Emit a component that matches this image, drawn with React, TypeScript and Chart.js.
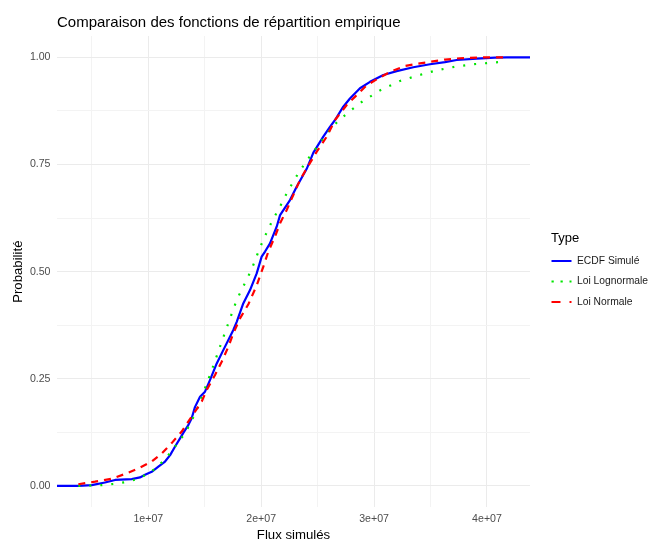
import React, { useEffect, useRef } from "react";
import { Chart, registerables } from "chart.js";

Chart.register(...registerables);

const FONT = "'Liberation Sans', Arial, Helvetica, sans-serif";

const chartTitle = "Comparaison des fonctions de répartition empirique";
const xAxisTitle = "Flux simulés";
const yAxisTitle = "Probabilité";
const legendTitle = "Type";
const seriesNames = ["ECDF Simulé", "Loi Lognormale", "Loi Normale"];
const seriesColors = ["#0000FF", "#00E600", "#FF0000"];

const xMajorTicks = [1e7, 2e7, 3e7, 4e7];
const xTickLabels = ["1e+07", "2e+07", "3e+07", "4e+07"];
const xMinorTicks = [5e6, 1.5e7, 2.5e7, 3.5e7];
const yMajorTicks = [0, 0.25, 0.5, 0.75, 1];
const yTickLabels = ["0.00", "0.25", "0.50", "0.75", "1.00"];
const yMinorTicks = [0.125, 0.375, 0.625, 0.875];
const xRange = [1.91e6, 4.381e7];
const yRange = [-0.05, 1.05];

// ECDF of simulated flux
const ecdfX = [
  1.91e6, 3.8e6, 4.99e6, 6.16e6, 7.05e6, 8.53e6, 9.26e6, 9.71e6, 10.3e6, 10.89e6,
  11.48e6, 11.93e6, 12.37e6, 12.81e6, 13.1e6, 13.54e6, 13.84e6, 14.13e6, 14.58e6, 15.02e6,
  15.46e6, 16.06e6, 16.64e6, 17.53e6, 17.83e6, 18.41e6, 19.01e6, 19.6e6, 20.04e6, 20.34e6,
  20.78e6, 21.37e6, 21.67e6, 22.55e6, 23.14e6, 24.03e6, 24.62e6, 25.5e6, 26.09e6, 26.54e6,
  27.27e6, 27.86e6, 28.75e6, 29.64e6, 30.82e6, 32.0e6, 33.47e6, 34.95e6, 36.28e6, 37.32e6,
  39.09e6, 40.71e6, 41.75e6, 43.81e6,
];
const ecdfY = [
  0, 0, 0.002, 0.008, 0.014, 0.016, 0.02, 0.026, 0.033, 0.045,
  0.057, 0.072, 0.092, 0.111, 0.124, 0.142, 0.158, 0.184, 0.208, 0.22,
  0.247, 0.286, 0.317, 0.364, 0.383, 0.426, 0.457, 0.496, 0.535, 0.547,
  0.566, 0.605, 0.632, 0.667, 0.698, 0.74, 0.778, 0.815, 0.838, 0.854,
  0.885, 0.904, 0.928, 0.943, 0.959, 0.968, 0.977, 0.984, 0.989, 0.994,
  0.997, 0.9995, 1, 1,
];

// Fitted lognormal CDF at the simulated values
const lognormX = [
  3.8e6, 5.87e6, 7.05e6, 8.23e6, 9.11e6, 10.15e6, 10.89e6, 11.63e6, 12.37e6, 13.25e6,
  13.84e6, 14.43e6, 14.87e6, 15.62e6, 16.35e6, 17.09e6, 17.83e6, 18.57e6, 19.16e6, 19.74e6,
  20.19e6, 20.93e6, 21.67e6, 22.4e6, 23.29e6, 24.17e6, 25.06e6, 25.8e6, 26.83e6, 27.87e6,
  28.9e6, 30.52e6, 32.29e6, 33.77e6, 35.55e6, 37.32e6, 38.79e6, 40.56e6, 41.75e6,
];
const lognormY = [
  0, 0.002, 0.005, 0.01, 0.017, 0.031, 0.047, 0.067, 0.092, 0.123,
  0.152, 0.186, 0.218, 0.27, 0.325, 0.38, 0.434, 0.474, 0.506, 0.546,
  0.575, 0.616, 0.652, 0.69, 0.73, 0.764, 0.795, 0.822, 0.852, 0.875,
  0.896, 0.923, 0.945, 0.957, 0.97, 0.979, 0.984, 0.988, 0.991,
];

// Fitted normal CDF at the simulated values
const normX = [
  3.8e6, 5.28e6, 6.76e6, 7.94e6, 9.11e6, 10.3e6, 11.19e6, 12.07e6, 12.96e6, 13.84e6,
  14.73e6, 15.17e6, 15.91e6, 16.5e6, 17.09e6, 17.53e6, 18.12e6, 18.86e6, 19.6e6, 20.19e6,
  20.63e6, 21.22e6, 21.67e6, 22.26e6, 22.84e6, 23.44e6, 24.03e6, 24.92e6, 25.8e6, 26.54e6,
  27.57e6, 28.46e6, 29.34e6, 30.37e6, 31.41e6, 32.74e6, 34.06e6, 36.28e6, 37.61e6, 39.38e6,
  41.75e6,
];
const normY = [
  0.004, 0.01, 0.017, 0.028, 0.041, 0.057, 0.076, 0.1, 0.127, 0.162,
  0.197, 0.224, 0.259, 0.29, 0.325, 0.356, 0.391, 0.424, 0.468, 0.512,
  0.547, 0.582, 0.613, 0.644, 0.679, 0.714, 0.741, 0.78, 0.815, 0.854,
  0.889, 0.912, 0.935, 0.951, 0.966, 0.98, 0.986, 0.995, 0.998, 1,
  1,
];

const seriesDash: number[][] = [[], [2, 9], [7, 6]];
const legendDash: number[][] = [[], [2.25, 6.75], [9, 9]];

const toPoints = (xs: number[], ys: number[]) => xs.map((x, i) => ({ x, y: ys[i] }));

const legendPlugin = {
  id: "ggLegend",
  afterDraw(chart: any) {
    const ctx = chart.ctx as CanvasRenderingContext2D;
    ctx.save();
    ctx.textBaseline = "middle";
    ctx.textAlign = "left";
    ctx.fillStyle = "#000000";
    ctx.font = `13px ${FONT}`;
    ctx.fillText(legendTitle, 551, 238);
    const ys = [261, 281.5, 302];
    seriesNames.forEach((name, i) => {
      const y = ys[i];
      ctx.beginPath();
      ctx.strokeStyle = seriesColors[i];
      ctx.lineWidth = 2;
      ctx.lineCap = "butt";
      ctx.setLineDash(legendDash[i]);
      ctx.moveTo(551.5, y);
      ctx.lineTo(571.5, y);
      ctx.stroke();
      ctx.setLineDash([]);
      ctx.fillStyle = "#1A1A1A";
      ctx.font = `10.3px ${FONT}`;
      ctx.fillText(name, 577, y);
    });
    ctx.restore();
  },
};

export default function App() {
  const canvasRef = useRef<HTMLCanvasElement | null>(null);

  useEffect(() => {
    if (!canvasRef.current) return;
    const datasets = [
      { x: ecdfX, y: ecdfY },
      { x: lognormX, y: lognormY },
      { x: normX, y: normY },
    ].map((s, i) => ({
      label: seriesNames[i],
      data: toPoints(s.x, s.y),
      showLine: true,
      borderColor: seriesColors[i],
      backgroundColor: seriesColors[i],
      borderWidth: 2.2,
      borderDash: seriesDash[i],
      borderCapStyle: "butt" as const,
      borderJoinStyle: "round" as const,
      pointRadius: 0,
      tension: 0,
      fill: false,
      order: [2, 1, 0][i],
    }));

    const chart = new Chart(canvasRef.current, {
      type: "scatter",
      data: { datasets },
      plugins: [legendPlugin],
      options: {
        animation: false,
        responsive: false,
        devicePixelRatio: 1,
        layout: { padding: { left: 0, right: 126, top: 0, bottom: 0 } },
        plugins: {
          legend: { display: false },
          tooltip: { enabled: false },
          title: {
            display: true,
            text: chartTitle,
            align: "start",
            fullSize: false,
            color: "#000000",
            font: { family: FONT, size: 15, weight: "normal", lineHeight: 1.265 },
            padding: { top: 13, bottom: 4 },
          },
        },
        scales: {
          x: {
            type: "linear",
            min: xRange[0],
            max: xRange[1],
            border: { display: false },
            afterFit: (scale: any) => {
              scale.height = 32.6;
            },
            afterBuildTicks: (scale: any) => {
              scale.ticks = [...xMinorTicks, ...xMajorTicks]
                .sort((a, b) => a - b)
                .map((v) => ({ value: v }));
            },
            grid: {
              drawTicks: false,
              color: (c: any) => (xMajorTicks.includes(c.tick?.value) ? "#EBEBEB" : "#F3F3F3"),
              lineWidth: 1,
            },
            ticks: {
              autoSkip: false,
              maxRotation: 0,
              padding: 5,
              color: "#4D4D4D",
              font: { family: FONT, size: 10.6 },
              callback: (v: any) => {
                const idx = xMajorTicks.indexOf(Number(v));
                return idx >= 0 ? xTickLabels[idx] : "";
              },
            },
            title: {
              display: true,
              text: xAxisTitle,
              color: "#000000",
              font: { family: FONT, size: 13.2 },
              padding: { top: 0, bottom: -3 },
            },
          },
          y: {
            type: "linear",
            min: yRange[0],
            max: yRange[1],
            border: { display: false },
            afterFit: (scale: any) => {
              scale.width = 57;
            },
            afterBuildTicks: (scale: any) => {
              scale.ticks = [...yMinorTicks, ...yMajorTicks]
                .sort((a, b) => a - b)
                .map((v) => ({ value: v }));
            },
            grid: {
              drawTicks: false,
              color: (c: any) => (yMajorTicks.includes(c.tick?.value) ? "#EBEBEB" : "#F3F3F3"),
              lineWidth: 1,
            },
            ticks: {
              autoSkip: false,
              padding: 6.5,
              color: "#4D4D4D",
              font: { family: FONT, size: 10.6 },
              callback: (v: any) => {
                const idx = yMajorTicks.indexOf(Number(v));
                return idx >= 0 ? yTickLabels[idx] : "";
              },
            },
            title: {
              display: true,
              text: yAxisTitle,
              color: "#000000",
              font: { family: FONT, size: 13.2 },
              padding: { top: 10.5, bottom: 0 },
            },
          },
        },
      },
    });
    return () => chart.destroy();
  }, []);

  return (
    <div
      style={{
        position: "fixed",
        left: 0,
        top: 0,
        width: 656,
        height: 540,
        background: "#FFFFFF",
      }}
    >
      <canvas ref={canvasRef} width={656} height={540} style={{ display: "block" }} />
    </div>
  );
}
